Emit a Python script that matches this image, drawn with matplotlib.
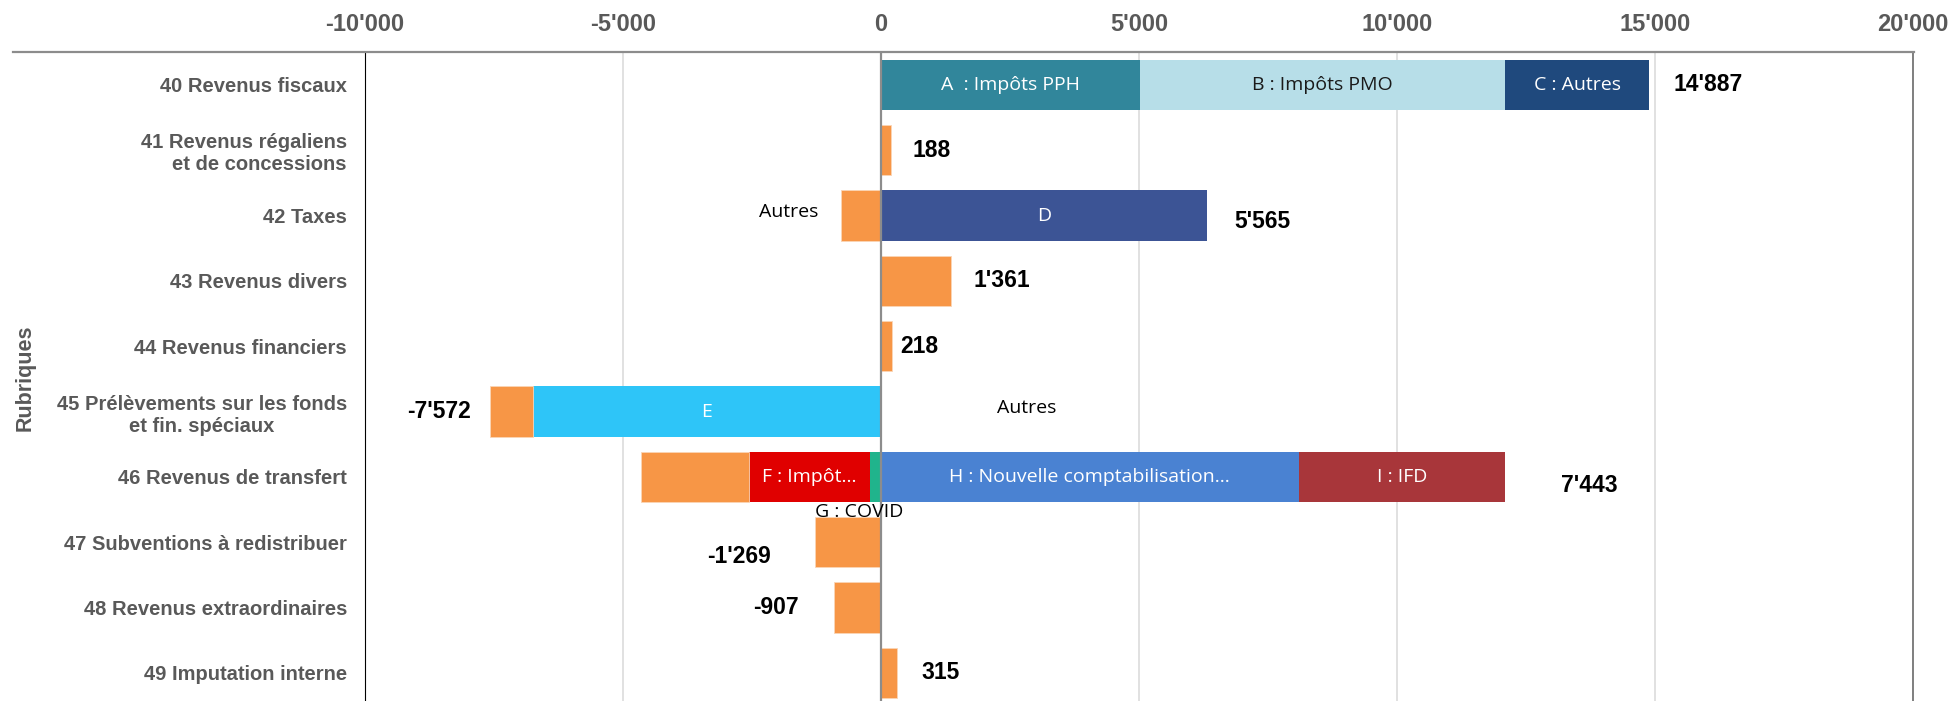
import matplotlib
matplotlib.use("Agg")
import matplotlib.pyplot as plt
from matplotlib.lines import Line2D

plt.rcParams['font.family'] = ['Liberation Sans', 'DejaVu Sans']

# Rubriques (top to bottom)
rubriques = [
    "40 Revenus fiscaux",
    "41 Revenus régaliens\net de concessions",
    "42 Taxes",
    "43 Revenus divers",
    "44 Revenus financiers",
    "45 Prélèvements sur les fonds\net fin. spéciaux",
    "46 Revenus de transfert",
    "47 Subventions à redistribuer",
    "48 Revenus extraordinaires",
    "49 Imputation interne",
]

# named segments: label, row, value
seg_labels = ["A  : Impôts PPH", "B : Impôts PMO", "C : Autres", "D", "E",
              "G : COVID", "F : Impôt...", "H : Nouvelle comptabilisation...", "I : IFD"]
seg_rows = [0, 0, 0, 2, 5, 6, 6, 6, 6]
seg_values = [5030, 7070, 2787, 6330, -6740, -205, -2350, 8100, 4000]
seg_colors = ["#31869B", "#B7DEE8", "#1F497D", "#3C5495", "#2EC5F8",
              "#20B48C", "#E00000", "#4A82D2", "#A8363A"]
seg_text_colors = ["white", "#1a1a1a", "white", "white", "white",
                   "black", "white", "white", "white"]

# "Autres" (orange) per row
autres = [0, 188, -765, 1361, 218, -832, -2102, -1269, -907, 315]
orange = "#F79646"

# placement of the total labels (pixels from the bar end)
total_dx = [25, 22, 27, 22, 8, 19, 56, 45, 35, 24]
total_dy = [0, 0, -6, 0, 0, 0, -9, -14, 0, 0]

W, H = 1952, 701
fig = plt.figure(figsize=(W / 100, H / 100), dpi=100)
ax_top, ax_bot = 52.3, 705.6
ax = fig.add_axes([365 / W, (H - ax_bot) / H, (1912.7 - 365) / W, (ax_bot - ax_top) / H])

bar_h = 0.77
pos_end = [0.0] * len(rubriques)
neg_end = [0.0] * len(rubriques)
seg_geom = []
for lab, r, v, c in zip(seg_labels, seg_rows, seg_values, seg_colors):
    left = pos_end[r] if v >= 0 else neg_end[r]
    ax.barh(r, v, left=left, height=bar_h, color=c, zorder=2)
    seg_geom.append((left, v))
    if v >= 0:
        pos_end[r] += v
    else:
        neg_end[r] += v

autres_geom = []
for r, v in enumerate(autres):
    if v == 0:
        autres_geom.append(None)
        continue
    left = pos_end[r] if v >= 0 else neg_end[r]
    ax.barh(r, v, left=left, height=bar_h, color=orange, edgecolor="#FAD5B6",
            linewidth=0.6, zorder=2)
    autres_geom.append((left, v))
    if v >= 0:
        pos_end[r] += v
    else:
        neg_end[r] += v

seg_font = dict(family=["Open Sans", "DejaVu Sans"], fontsize=14)

# labels inside the segments
for (left, v), lab, r, tc in zip(seg_geom, seg_labels, seg_rows, seg_text_colors):
    cx = left + v / 2
    if lab.startswith("G"):
        ax.annotate(lab, (cx, r + bar_h / 2), xytext=(-16, -1), textcoords="offset pixels",
                    ha="center", va="top", color=tc, zorder=4, **seg_font)
    else:
        ax.text(cx, r, lab, ha="center", va="center", color=tc, zorder=4, **seg_font)

# "Autres" labels
ax.annotate("Autres", (autres_geom[2][0] + autres_geom[2][1], 2), xytext=(-23, 4),
            textcoords="offset pixels", ha="right", va="center", **seg_font)
ax.annotate("Autres", (0, 5), xytext=(146, 4), textcoords="offset pixels",
            ha="center", va="center", **seg_font)

# totals
for r in range(len(rubriques)):
    total = pos_end[r] + neg_end[r]
    txt = f"{abs(total):,.0f}".replace(",", "'")
    if total < 0:
        txt = "-" + txt
        x0, ha, dx = neg_end[r], "right", -total_dx[r]
    else:
        x0, ha, dx = pos_end[r], "left", total_dx[r]
    ax.annotate(txt, (x0, r), xytext=(dx, total_dy[r]), textcoords="offset pixels",
                ha=ha, va="center", fontsize=16.5, fontweight="bold", color="black")

ax.set_xlim(-10000, 20000)
ax.set_ylim(len(rubriques) - 0.5, -0.5)
ax.set_xticks(range(-10000, 20001, 5000))
ax.set_xticklabels([f"{t:,}".replace(",", "'") for t in range(-10000, 20001, 5000)])
ax.xaxis.tick_top()
ax.tick_params(axis="x", length=0, pad=12, labelsize=17, labelcolor="#595959")
for lbl in ax.get_xticklabels():
    lbl.set_fontweight("bold")
ax.set_yticks(range(len(rubriques)))
ax.set_yticklabels(rubriques, fontweight="bold", color="#595959", fontsize=14.5,
                   multialignment="center")
ax.get_yticklabels()[1].set_multialignment("right")
ax.tick_params(axis="y", length=0, pad=13)

ax.grid(axis="x", color="#D9D9D9", linewidth=1.1, zorder=0)
ax.set_axisbelow(True)
ax.axvline(0, color="#8C8C8C", linewidth=1.6, zorder=3)

ax.spines["bottom"].set_visible(False)
ax.spines["top"].set_visible(False)
ax.spines["left"].set_color("black")
ax.spines["left"].set_linewidth(0.8)
ax.spines["right"].set_color("#7F7F7F")
ax.spines["right"].set_linewidth(1.4)

# top axis line running over the label area
fig.add_artist(Line2D([13 / W, 1913.5 / W], [(H - ax_top) / H] * 2,
                      transform=fig.transFigure, color="#8C8C8C", linewidth=1.6))

fig.text(25 / W, 1 - 378 / H, "Rubriques", rotation=90, ha="center", va="center",
         fontsize=15.5, fontweight="bold", color="#595959")

fig.savefig("out.png", dpi=100)
